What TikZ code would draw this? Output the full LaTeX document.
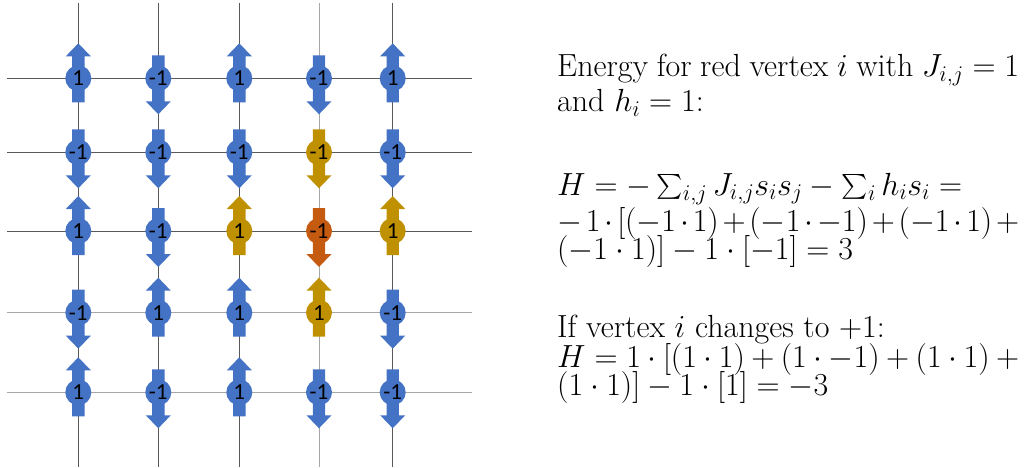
\RequirePackage{fix-cm}
\documentclass[tikz,border=0pt]{standalone}
\usepackage{amsmath}
\usepackage{fontspec}
\newfontfamily\calib{Carlito}
\definecolor{spinblue}{HTML}{4472C4}
\definecolor{spingold}{HTML}{BF9000}
\definecolor{spinorange}{HTML}{C55A11}
\definecolor{griddark}{HTML}{595959}
\definecolor{gridlight}{HTML}{A6A6A6}
\newcommand{\justline}[1]{\hbox to 462pt{#1}}
\tikzset{
  gridline/.style={line width=0.9pt},
  lab/.style={inner sep=0pt, font=\calib\fontsize{23}{23}\selectfont, text=black},
  txt/.style={inner sep=0pt, anchor=base west, font=\fontsize{32}{30}\selectfont},
  pics/spinup/.style={code={
    \fill[#1] (-6.2,24) -- (-6.2,-22) -- (-12.5,-22) -- (0,-35) -- (12.5,-22) -- (6.2,-22) -- (6.2,24) -- cycle;
    \fill[#1] (0,0) circle (13);}},
  pics/spindown/.style={code={
    \fill[#1] (-6.2,-23) -- (-6.2,23) -- (-12.5,23) -- (0,36) -- (12.5,23) -- (6.2,23) -- (6.2,-23) -- cycle;
    \fill[#1] (0,0) circle (13);}}
}
\begin{document}
\begin{tikzpicture}[x=1pt,y=-1pt]
\useasboundingbox (0,0) rectangle (1025,468);
% grid coordinates
\foreach \x/\n in {78.3/1,158.3/2,239.3/3,319/4,392.7/5}{
  \coordinate (vt\n) at (\x,3);
  \coordinate (vb\n) at (\x,467);
}
\foreach \y/\n in {78.3/1,152.3/2,231/3,312.7/4,392.3/5}{
  \coordinate (hl\n) at (7,\y);
  \coordinate (hr\n) at (472,\y);
}
\foreach \n in {1,2,3,5}{\draw[gridline,griddark] (vt\n) -- (vb\n);}
\draw[gridline,gridlight] (vt4) -- (vb4);
\foreach \n in {1,2,3}{\draw[gridline,griddark] (hl\n) -- (hr\n);}
\foreach \n in {4,5}{\draw[gridline,gridlight] (hl\n) -- (hr\n);}
% spin positions
\foreach \r/\y in {1/78.3,2/152.3,3/231,4/312.7,5/392.3}{
  \foreach \c/\x in {1/78.3,2/158.3,3/239.3,4/319,5/392.7}{
    \coordinate (p\r\c) at (\x,\y);
  }
}
% spins: row, column, value, colour
\foreach \r/\c/\v/\col in {
  1/1/1/spinblue, 1/2/-1/spinblue, 1/3/1/spinblue, 1/4/-1/spinblue, 1/5/1/spinblue,
  2/1/-1/spinblue, 2/2/-1/spinblue, 2/3/-1/spinblue, 2/4/-1/spingold, 2/5/-1/spinblue,
  3/1/1/spinblue, 3/2/-1/spinblue, 3/3/1/spingold, 3/4/-1/spinorange, 3/5/1/spingold,
  4/1/-1/spinblue, 4/2/1/spinblue, 4/3/1/spinblue, 4/4/1/spingold, 4/5/-1/spinblue,
  5/1/1/spinblue, 5/2/-1/spinblue, 5/3/1/spinblue, 5/4/-1/spinblue, 5/5/-1/spinblue}{
  \ifnum\v>0
    \pic at (p\r\c) {spinup=\col};
  \else
    \pic at (p\r\c) {spindown=\col};
  \fi
  \node[lab] (s\r\c) at (p\r\c) {\v};
}
% text
\node[txt] (t1) at (557,77) {\justline{Energy for red vertex $i$ with $J_{i,j}=1$}};
\node[txt] (t2) at (557,112) {and $h_i=1$:};
\node[txt] (t3) at (557,195) {$H=-\sum_{i,j}J_{i,j}s_is_j-\sum_i h_is_i=$};
\node[txt] (t4) at (557,231) {\justline{$-\mskip\medmuskip 1\cdot[(-1\cdot1)+(-1\cdot-1)+(-1\cdot1)\mskip\medmuskip+$}};
\node[txt] (t5) at (557,259) {$(-1\cdot1)]-1\cdot[-1]=3$};
\node[txt] (t6) at (557,337) {If vertex $i$ changes to $+1$:};
\node[txt] (t7) at (557,367) {\justline{$H=1\cdot[(1\cdot1)+(1\cdot-1)+(1\cdot1)\mskip\medmuskip+$}};
\node[txt] (t8) at (557,395) {$(1\cdot1)]-1\cdot[1]=-3$};
\end{tikzpicture}
\end{document}
